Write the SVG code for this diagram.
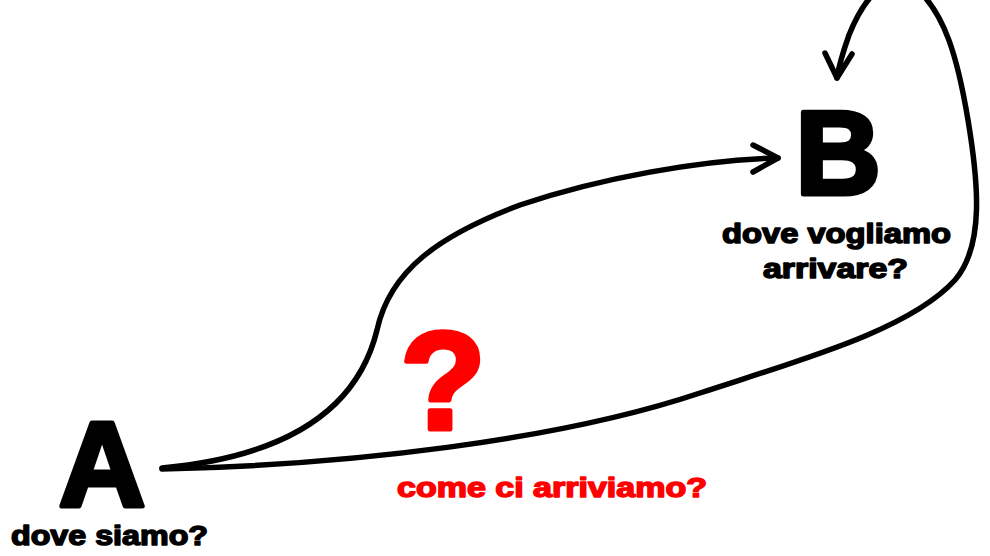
<svg xmlns="http://www.w3.org/2000/svg" width="990" height="556" viewBox="0 0 990 556">
<style>
.big{font-family:"Liberation Sans",Arial,sans-serif;font-weight:bold;fill:#000;stroke:#000;stroke-width:5;stroke-linejoin:round}
.lbl{font-family:"Liberation Sans",Arial,sans-serif;font-weight:bold;font-size:27px;fill:#000;stroke:#000;stroke-width:1.5;stroke-linejoin:round}
.red{fill:#ff0000;stroke:#ff0000}
.line{fill:none;stroke:#000;stroke-width:5.5;stroke-linecap:round;stroke-linejoin:round}
</style>
<rect width="990" height="556" fill="#fff"/>
<g id="connectors">
<path class="line" d="M162,468 C 270,458 355,420 377,330 C 390,270 440,235 520,205 C 600,178 700,160 778,158"/>
<polyline class="line" points="753,145 778,158 753,172"/>
<path class="line" d="M162,469 C 350,465 560,440 700,393 C 800,360 910,330 955,280 C 985,245 978,180 968,120 C 958,60 945,10 912,-15 C 890,-30 865,-5 849,35 C 843,52 839,65 837,78"/>
<polyline class="line" points="825,53 837,78 852,54"/>
</g>
<g id="nodeA">
<text class="big" x="102" y="506" font-size="120" text-anchor="middle">A</text>
<text class="lbl" x="11" y="545" textLength="197" lengthAdjust="spacingAndGlyphs">dove siamo?</text>
</g>
<g id="nodeB">
<text class="big" x="838" y="194" font-size="118" text-anchor="middle">B</text>
<text class="lbl" x="722" y="243" textLength="229" lengthAdjust="spacingAndGlyphs">dove vogliamo</text>
<text class="lbl" x="763" y="278" textLength="145" lengthAdjust="spacingAndGlyphs">arrivare?</text>
</g>
<g id="question">
<text class="big red" x="443" y="429" font-size="140" text-anchor="middle" stroke-width="3">?</text>
<text class="lbl red" x="397" y="497" textLength="310" lengthAdjust="spacingAndGlyphs">come ci arriviamo?</text>
</g>
</svg>
